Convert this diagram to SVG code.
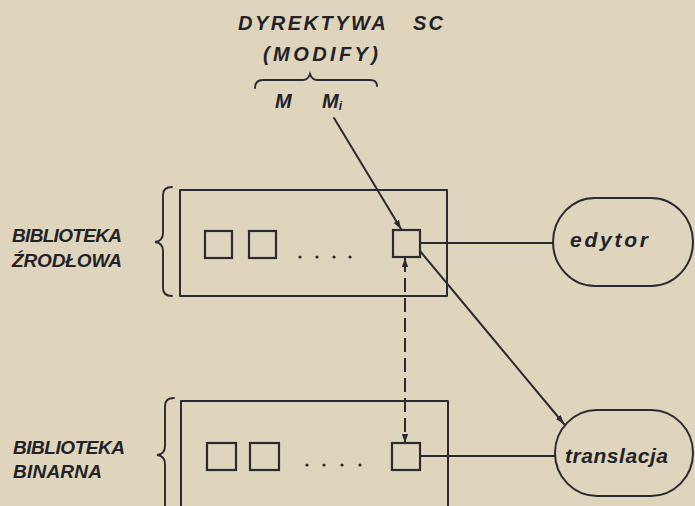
<svg xmlns="http://www.w3.org/2000/svg" width="695" height="506" viewBox="0 0 695 506">
<defs>
<style>
.ln{fill:none;stroke:#2a2a33;stroke-width:2;stroke-linecap:round;stroke-linejoin:round}
.thin{fill:none;stroke:#2a2a33;stroke-width:1.9;stroke-linecap:round}
.sq{fill:none;stroke:#2a2a33;stroke-width:2.2}
.dash{fill:none;stroke:#2a2a33;stroke-width:2;stroke-dasharray:14,6}
.t{font-family:"Liberation Sans",Arial,sans-serif;font-style:italic;font-weight:bold;fill:#222228}
.dot{fill:#2a2a33}
</style>
<marker id="ah" viewBox="0 0 10 10" refX="10" refY="5" markerWidth="9" markerHeight="9" markerUnits="userSpaceOnUse" orient="auto-start-reverse">
<path d="M0,1.5 L10,5 L0,8.5 Z" fill="#2a2a33"/>
</marker>
</defs>
<rect width="695" height="506" fill="#dfd5bd"/>

<g id="header">
<text class="t" font-size="20" y="30"><tspan x="238" textLength="147" lengthAdjust="spacing">DYREKTYWA</tspan> <tspan x="413" textLength="30" lengthAdjust="spacing">SC</tspan></text>
<text class="t" font-size="20" x="263" y="61" textLength="115" lengthAdjust="spacing">(MODIFY)</text>
<path class="thin" d="M255,88 Q255,80 263,80 L303,80 Q308,80 310,74 Q312,80 317,80 L370,80 Q377,80 377,86"/>
<text class="t" font-size="20" x="275" y="108">M</text>
<text class="t" font-size="20" x="322" y="108">M<tspan font-size="12" dy="2">i</tspan></text>
</g>

<g id="lib-src">
<text class="t" font-size="19" x="12" y="242" textLength="110" lengthAdjust="spacing">BIBLIOTEKA</text>
<text class="t" font-size="19" x="12" y="267" textLength="110" lengthAdjust="spacing">ŹRODŁOWA</text>
<path class="thin" d="M172,187 Q163,187 163,195 L163,233 Q163,241 155,242 Q163,243 163,251 L163,288 Q163,296 172,296"/>
<rect class="ln" x="180" y="190" width="267" height="106"/>
<rect class="sq" x="205" y="231" width="27" height="27"/>
<rect class="sq" x="249" y="231" width="27" height="27"/>
<circle class="dot" cx="300" cy="257" r="1.6"/>
<circle class="dot" cx="317" cy="257" r="1.6"/>
<circle class="dot" cx="334" cy="257" r="1.6"/>
<circle class="dot" cx="350" cy="257" r="1.6"/>
<rect class="sq" x="393" y="230" width="27" height="27"/>
</g>

<g id="lib-bin">
<text class="t" font-size="19" x="13" y="454" textLength="112" lengthAdjust="spacing">BIBLIOTEKA</text>
<text class="t" font-size="19" x="13" y="478" textLength="89" lengthAdjust="spacing">BINARNA</text>
<path class="thin" d="M174,398 Q165,398 165,406 L165,446 Q165,454 157,455 Q165,456 165,464 L165,506"/>
<path class="ln" d="M181,510 V401 H448 V510"/>
<rect class="sq" x="207" y="443" width="29" height="27"/>
<rect class="sq" x="250" y="443" width="29" height="27"/>
<circle class="dot" cx="307" cy="465" r="1.6"/>
<circle class="dot" cx="324" cy="465" r="1.6"/>
<circle class="dot" cx="342" cy="465" r="1.6"/>
<circle class="dot" cx="360" cy="465" r="1.6"/>
<rect class="sq" x="392" y="443" width="28" height="27"/>
</g>

<g id="edytor">
<rect class="ln" x="553" y="198" width="140" height="88" rx="42" ry="44"/>
<text class="t" font-size="21" x="570" y="247" textLength="78" lengthAdjust="spacing">edytor</text>
</g>

<g id="translacja">
<rect class="ln" x="555" y="410" width="138" height="86" rx="42" ry="43"/>
<text class="t" font-size="21" x="565" y="463" textLength="103" lengthAdjust="spacing">translacja</text>
</g>

<g id="connectors">
<line class="ln" x1="334" y1="118" x2="401" y2="229" marker-end="url(#ah)"/>
<line class="ln" x1="420" y1="243" x2="553" y2="243"/>
<line class="ln" x1="420" y1="251" x2="564" y2="424" marker-end="url(#ah)"/>
<line class="dash" x1="405" y1="258" x2="405" y2="443" marker-start="url(#ah)" marker-end="url(#ah)"/>
<line class="ln" x1="420" y1="456" x2="555" y2="456"/>
</g>
</svg>
